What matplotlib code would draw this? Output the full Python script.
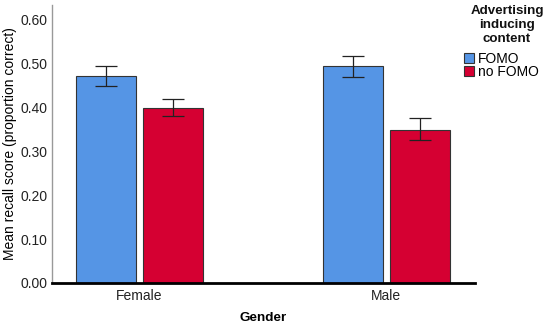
import matplotlib.pyplot as plt
import numpy as np

plt.rcParams['font.family'] = ['Liberation Sans', 'DejaVu Sans']

genders = ['Female', 'Male']
series = ['FOMO', 'no FOMO']
means = {'FOMO': [0.470, 0.493], 'no FOMO': [0.398, 0.348]}
err_low = {'FOMO': [0.449, 0.468], 'no FOMO': [0.379, 0.325]}
err_high = {'FOMO': [0.493, 0.517], 'no FOMO': [0.418, 0.375]}
colors = {'FOMO': '#5595E5', 'no FOMO': '#D50032'}

fig = plt.figure(figsize=(5.49, 3.27), dpi=100)
ax = fig.add_axes([0.0947, 0.1346, 0.770, 0.850])

x = np.arange(len(genders))
w = 0.243
offs = [-0.1355, 0.1355]
for s, o in zip(series, offs):
    m = np.array(means[s])
    lo = m - np.array(err_low[s])
    hi = np.array(err_high[s]) - m
    ax.bar(x + o, m, w, color=colors[s], edgecolor='#333333', linewidth=0.8, label=s, zorder=2)
    ax.errorbar(x + o, m, yerr=[lo, hi], fmt='none', ecolor='#222222', elinewidth=0.9,
                capsize=8, capthick=0.9, zorder=3)

ax.set_xlim(-0.354, 1.358)
ax.set_ylim(0, 0.632)
ax.set_yticks(np.arange(0, 0.61, 0.1))
ax.set_yticklabels([f'{v:.2f}' for v in np.arange(0, 0.61, 0.1)])
ax.set_xticks(x)
ax.set_xticklabels(genders)
ax.tick_params(axis='both', length=0, labelsize=10, colors='#222222')
ax.tick_params(axis='x', pad=4.5)
ax.tick_params(axis='y', pad=3)
for sp in ['top', 'right']:
    ax.spines[sp].set_visible(False)
ax.spines['left'].set_color('#999999')
ax.spines['left'].set_linewidth(1.0)
ax.spines['bottom'].set_color('black')
ax.spines['bottom'].set_linewidth(2.0)
ax.set_ylabel('Mean recall score (proportion correct)', fontsize=10, labelpad=3)
ax.set_xlabel('Gender', fontsize=9.7, fontweight='bold', labelpad=6)

# legend title drawn separately so its spacing matches
fig.text(507 / 549, 1 - 5 / 327, 'Advertising\ninducing\ncontent', ha='center', va='top',
         fontsize=9.6, fontweight='bold', linespacing=1.25, color='#111111')
leg = ax.legend(loc='upper left',
                bbox_to_anchor=(464 / 549, 1 - 52 / 327), bbox_transform=fig.transFigure,
                frameon=False, fontsize=10,
                handlelength=0.7, handleheight=0.7, handletextpad=0.3,
                labelspacing=-0.1, borderaxespad=0, borderpad=0)

fig.savefig('out.png', dpi=100)
